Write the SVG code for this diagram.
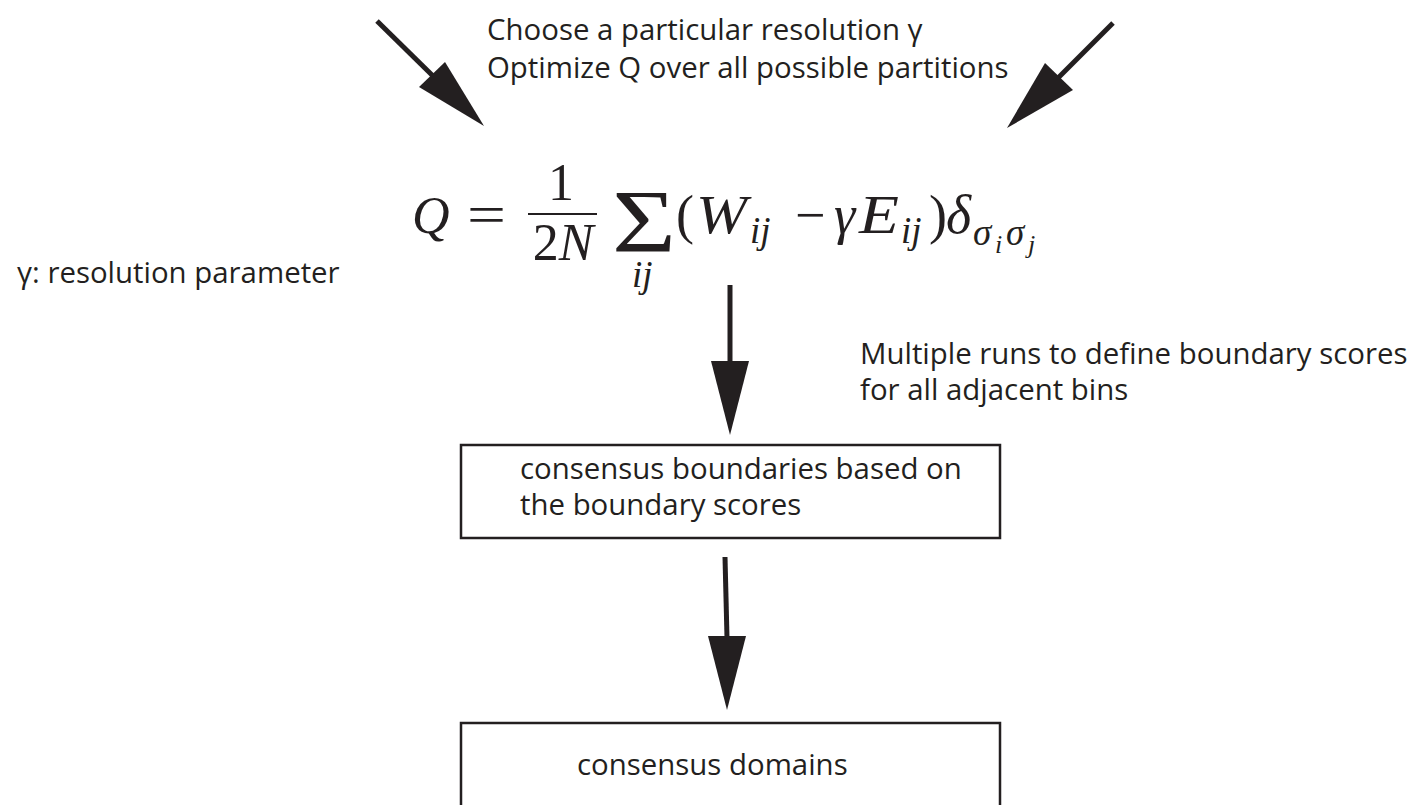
<svg xmlns="http://www.w3.org/2000/svg" width="1417" height="805" viewBox="0 0 1417 805">
<style>
.t{font-family:"Open Sans","Noto Sans",sans-serif;font-size:29.4px;fill:#231f20}
.m{font-family:"Liberation Serif","DejaVu Serif",serif;fill:#231f20;font-size:54px}
.s{font-size:37px}
.ss{font-size:26px}
.i{font-style:italic}
.box{fill:#fff;stroke:#231f20;stroke-width:2.5}
.ln{stroke:#231f20;stroke-width:5;fill:none}
.hd{fill:#231f20}
</style>
<rect width="1417" height="805" fill="#fff"/>
<g id="connectors">
<line class="ln" x1="377" y1="21" x2="433" y2="76"/>
<polygon class="hd" points="484,126 419,87 445,62"/>
<line class="ln" x1="1113" y1="23" x2="1058" y2="78"/>
<polygon class="hd" points="1007,128 1045,63 1073,90"/>
<line class="ln" x1="730" y1="285" x2="730" y2="363"/>
<polygon class="hd" points="711,361 749,361 730,435"/>
<line class="ln" x1="725" y1="557" x2="727" y2="638"/>
<polygon class="hd" points="708,636 746,636 727,710"/>
</g>
<g id="top-label">
<text class="t" x="487" y="40">Choose a particular resolution γ<tspan x="487" y="78">Optimize Q over all possible partitions</tspan></text>
</g>
<g id="formula">
<text class="m i" x="412" y="233" style="font-size:52px">Q</text>
<text class="m" x="467" y="233" textLength="39" lengthAdjust="spacingAndGlyphs">=</text>
<text class="m" x="561" y="200" text-anchor="middle" style="font-size:52px">1</text>
<line x1="528" y1="214" x2="597" y2="214" stroke="#231f20" stroke-width="2.2"/>
<text class="m" x="563" y="260" text-anchor="middle" style="font-size:52px">2<tspan class="i">N</tspan></text>
<text class="m" x="612" y="251" style="font-size:89px"><tspan textLength="64" lengthAdjust="spacingAndGlyphs">Σ</tspan><tspan class="i s" x="632" y="287">ij</tspan></text>
<text class="m" x="676" y="233">(</text>
<text class="m i" x="696" y="233" textLength="51" lengthAdjust="spacingAndGlyphs">W</text>
<text class="m i s" x="750" y="243">ij</text>
<text class="m" x="795" y="233">−</text>
<text class="m i" x="834" y="233">γ</text>
<text class="m i" x="859" y="233" textLength="40" lengthAdjust="spacingAndGlyphs">E</text>
<text class="m i s" x="901" y="243">ij</text>
<text class="m" x="929" y="233">)</text>
<text class="m i" x="946" y="233">δ</text>
<text class="m i s" x="973" y="245">σ</text>
<text class="m i ss" x="995" y="253">i</text>
<text class="m i s" x="1006" y="245">σ</text>
<text class="m i ss" x="1028" y="253">j</text>
</g>
<g id="gamma-label">
<text class="t" x="17" y="283">γ: resolution parameter</text>
</g>
<g id="runs-label">
<text class="t" x="860" y="364">Multiple runs to define boundary scores<tspan x="860" y="400">for all adjacent bins</tspan></text>
</g>
<g id="node-boundaries">
<rect class="box" x="461" y="445" width="539" height="93"/>
<text class="t" x="520" y="479">consensus boundaries based on<tspan x="520" y="515">the boundary scores</tspan></text>
</g>
<g id="node-domains">
<rect class="box" x="461" y="723" width="539" height="100"/>
<text class="t" x="577" y="775">consensus domains</text>
</g>
</svg>
